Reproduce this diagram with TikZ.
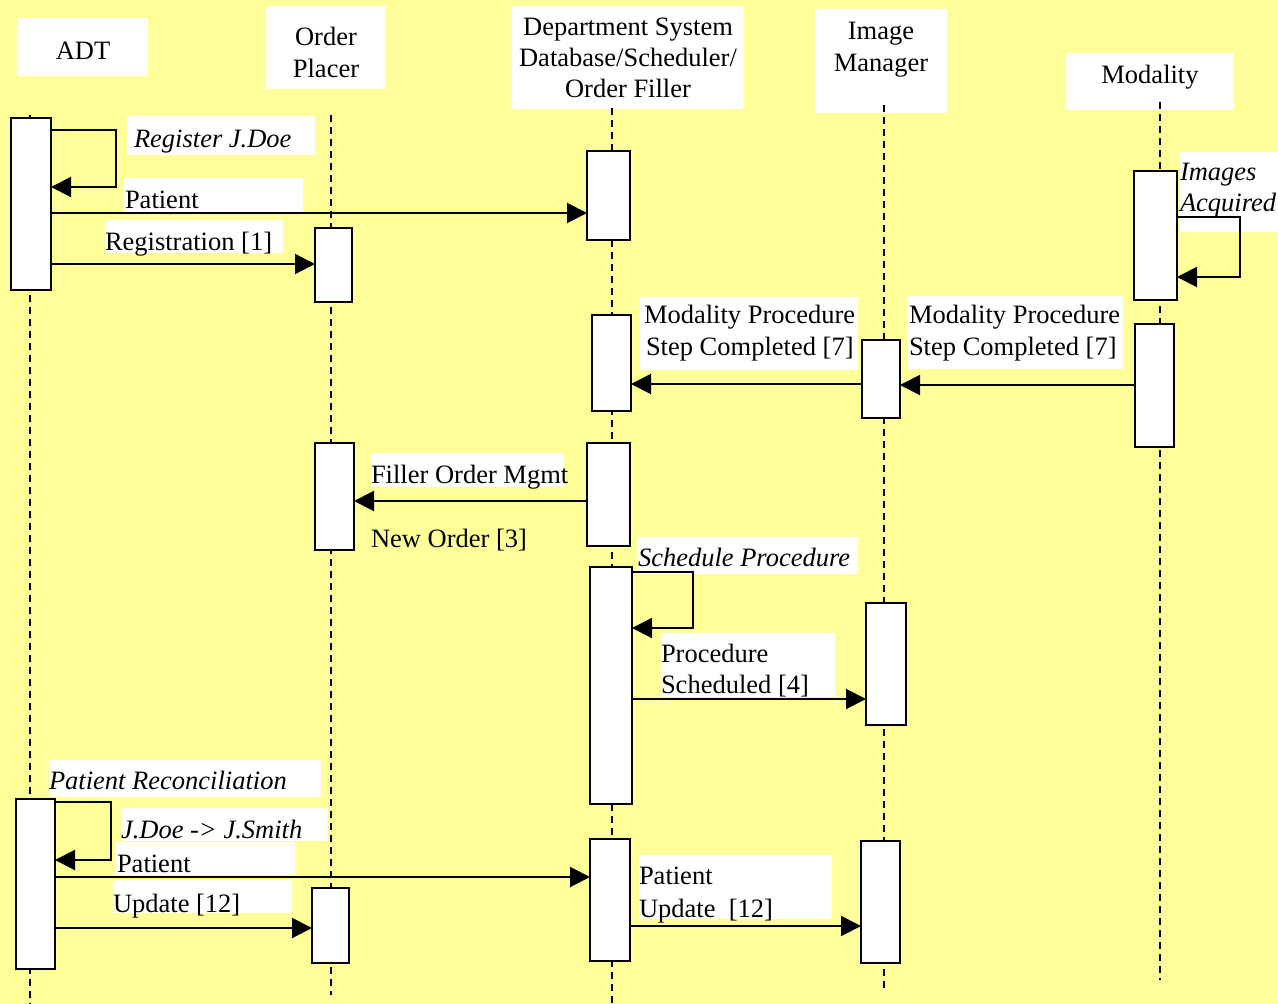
\documentclass[tikz,border=0pt]{standalone}
\usepackage{fontspec}
\setmainfont{Liberation Serif}
\usetikzlibrary{arrows.meta}
\definecolor{paper}{HTML}{FFFF99}

% activation bar: name, centre x, centre y, width, height
\newcommand\actbar[5]{\node[act, minimum width=#4pt, minimum height=#5pt] (#1) at (#2,#3) {};}
% white label patch: x1, y1, x2, y2
\newcommand\patch[4]{\fill[white] (#1,#2) rectangle (#3,#4);}

\begin{document}
\begin{tikzpicture}[x=1pt,y=-1pt,
  every node/.style={font=\fontsize{26.5}{32}\selectfont, inner sep=0pt, outer sep=0pt},
  txt/.style={anchor=base west},
  ctxt/.style={anchor=base},
  itx/.style={anchor=base west, font=\fontsize{26.5}{32}\selectfont\itshape},
  hdr/.style={rectangle, fill=white},
  act/.style={rectangle, draw, fill=white, line width=2pt},
  life/.style={line width=2pt, dash pattern=on 7pt off 5pt},
  msg/.style={line width=2pt, -{Triangle[length=20pt,width=20pt]}}]

% canvas
\fill[paper] (0,0) rectangle (1278,1004);
\useasboundingbox (0,0) rectangle (1278,1004);

% header boxes
\node[hdr, minimum width=131pt, minimum height=58pt] (hADT) at (82.5,47) {};
\node[hdr, minimum width=120pt, minimum height=83pt] (hOP) at (326,47.5) {};
\node[hdr, minimum width=232pt, minimum height=103pt] (hDS) at (628,57.5) {};
\node[hdr, minimum width=132pt, minimum height=104pt] (hIM) at (881,61) {};
\node[hdr, minimum width=168pt, minimum height=57pt] (hMod) at (1150,81.5) {};

% lifelines
\coordinate (lADTt) at (30,115);   \coordinate (lADTb) at (30,1004);
\coordinate (lOPt) at (331,115);   \coordinate (lOPb) at (331,995);
\coordinate (lDSt) at (612,108);   \coordinate (lDSb) at (612,1004);
\coordinate (lIMt) at (884,105);   \coordinate (lIMb) at (884,990);
\coordinate (lModt) at (1160,102); \coordinate (lModb) at (1160,980);
\draw[life] (lADTt) -- (lADTb);
\draw[life] (lOPt) -- (lOPb);
\draw[life] (lDSt) -- (lDSb);
\draw[life] (lIMt) -- (lIMb);
\draw[life] (lModt) -- (lModb);

% label patches
\patch{127}{116}{315}{155}
\patch{124}{178}{303}{212}
\patch{105}{220}{283}{253}
\patch{1180}{152}{1278}{232}
\patch{907}{296}{1123}{369}
\patch{640}{297}{858}{370}
\patch{371}{453}{564}{487}
\patch{637}{537}{858}{574}
\patch{661}{633}{835}{697}
\patch{49}{760}{321}{797}
\patch{121}{808}{327}{841}
\patch{116}{842}{295}{875}
\patch{113}{880}{292}{913}
\patch{639}{855}{832}{919}

% activation bars
\actbar{a1}{31}{204}{40}{172}
\actbar{a2}{35.5}{884}{39}{170}
\actbar{o1}{333.5}{265}{37}{74}
\actbar{o2}{334.5}{496.5}{39}{107}
\actbar{o3}{330.5}{925.5}{37}{75}
\actbar{d1}{608.5}{195.5}{43}{89}
\actbar{d2}{611.5}{363}{39}{96}
\actbar{d3}{608.5}{494.5}{43}{103}
\actbar{d4}{611}{685.5}{42}{237}
\actbar{d5}{610}{900}{40}{122}
\actbar{i1}{881}{379}{38}{78}
\actbar{i2}{886}{664}{40}{122}
\actbar{i3}{880.5}{902}{39}{122}
\actbar{m1}{1155.5}{235.5}{43}{129}
\actbar{m2}{1154.5}{385.5}{39}{123}

% messages
\draw[msg] (a1.east |- 0,130) -- (116,130) -- (116,187) -- (a1.east |- 0,187);
\draw[msg] (a1.east |- 0,213) -- (d1.west |- 0,213);
\draw[msg] (a1.east |- 0,264) -- (o1.west |- 0,264);
\draw[msg] (m1.east |- 0,217) -- (1240,217) -- (1240,277) -- (m1.east |- 0,277);
\draw[msg] (m2.west |- 0,385) -- (i1.east |- 0,385);
\draw[msg] (i1.west |- 0,384) -- (d2.east |- 0,384);
\draw[msg] (d3.west |- 0,501) -- (o2.east |- 0,501);
\draw[msg] (d4.east |- 0,572) -- (693,572) -- (693,628) -- (d4.east |- 0,628);
\draw[msg] (d4.east |- 0,699) -- (i2.west |- 0,699);
\draw[msg] (a2.east |- 0,802) -- (111,802) -- (111,860) -- (a2.east |- 0,860);
\draw[msg] (a2.east |- 0,877) -- (d5.west |- 0,877);
\draw[msg] (a2.east |- 0,928) -- (o3.west |- 0,928);
\draw[msg] (d5.east |- 0,926) -- (i3.west |- 0,926);

% header texts
\node[ctxt] (tADT) at (83,59) {ADT};
\node[ctxt] (tOP1) at (326,45) {Order};
\node[ctxt] (tOP2) at (326,77) {Placer};
\node[ctxt] (tDS1) at (628,35) {Department System};
\node[ctxt] (tDS2) at (628,66) {Database/Scheduler/};
\node[ctxt] (tDS3) at (628,97) {Order Filler};
\node[ctxt] (tIM1) at (881,39) {Image};
\node[ctxt] (tIM2) at (881,71) {Manager};
\node[ctxt] (tMod) at (1150,83) {Modality};

% message texts
\node[itx] (l1) at (134,147) {Register J.Doe};
\node[txt] (l2) at (125,208) {Patient};
\node[txt] (l3) at (105,250) {Registration [1]};
\node[itx] (l4a) at (1180,180) {Images};
\node[itx] (l4b) at (1180,211) {Acquired};
\node[txt] (l5a) at (909,323) {Modality Procedure};
\node[txt] (l5b) at (909,355) {Step Completed [7]};
\node[txt] (l6a) at (644,323) {Modality Procedure};
\node[txt] (l6b) at (646,355) {Step Completed [7]};
\node[txt] (l7a) at (371,483) {Filler Order Mgmt};
\node[txt] (l7b) at (371,547) {New Order [3]};
\node[itx] (l8) at (638,566) {Schedule Procedure};
\node[txt] (l9a) at (661,662) {Procedure};
\node[txt] (l9b) at (661,693) {Scheduled [4]};
\node[itx] (l10) at (49,789) {Patient Reconciliation};
\node[itx] (l11) at (121,838) {J.Doe -> J.Smith};
\node[txt] (l12) at (117,872) {Patient};
\node[txt] (l13) at (113,912) {Update [12]};
\node[txt] (l14a) at (639,884) {Patient};
\node[txt] (l14b) at (639,917) {Update\ \ [12]};
\end{tikzpicture}
\end{document}
